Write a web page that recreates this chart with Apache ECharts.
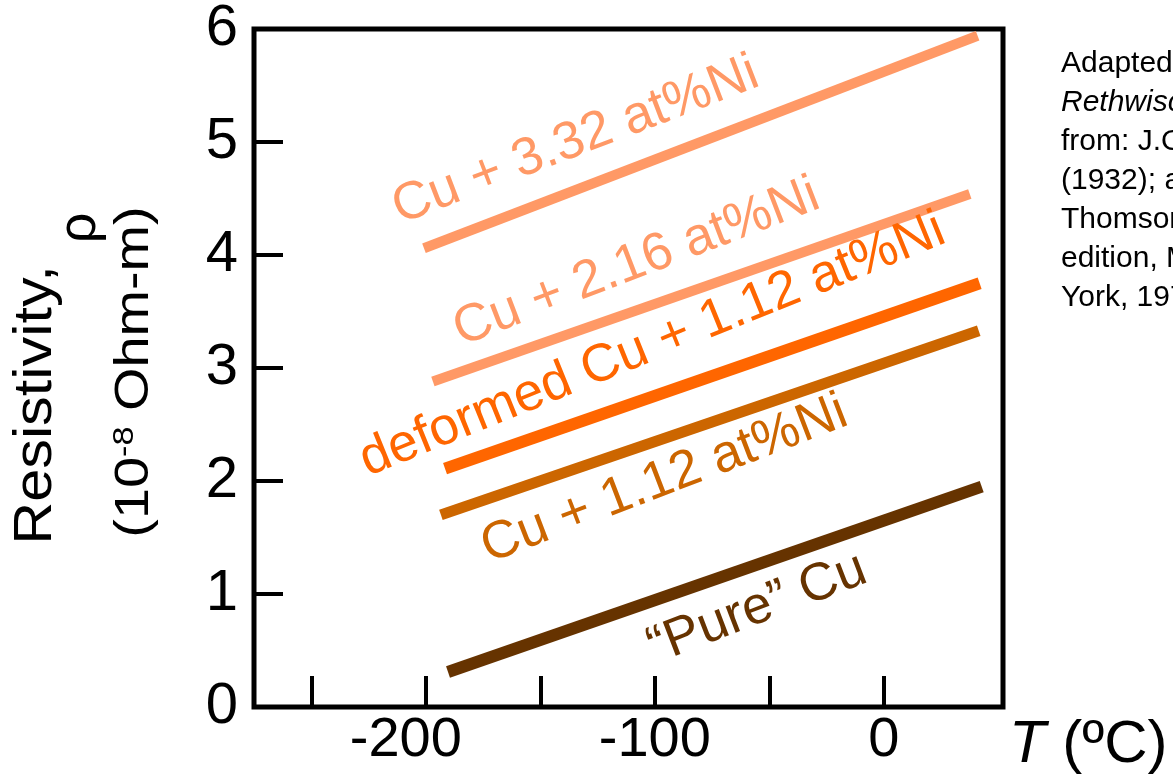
<!DOCTYPE html>
<html>
<head>
<meta charset="utf-8">
<script src="https://cdn.jsdelivr.net/npm/echarts@6/dist/echarts.min.js"></script>
<style>
html,body{margin:0;padding:0;background:#fff;}
#chart{width:1173px;height:776px;}
</style>
</head>
<body>
<div id="chart"></div>
<script>
// ---- data ----
const tempTicks = [-250, -200, -150, -100, -50, 0];
const tempLabels = [-200, -100, 0];
const rhoTicks = [1, 2, 3, 4, 5];
const rhoLabels = [0, 1, 2, 3, 4, 5, 6];

const seriesNames = ['"Pure" Cu', 'Cu + 1.12 at%Ni', 'deformed Cu + 1.12 at%Ni', 'Cu + 2.16 at%Ni', 'Cu + 3.32 at%Ni'];
const pureCu        = [[-190.3, 0.31], [42.7, 1.95]];
const cu112         = [[-193.4, 1.70], [41.4, 3.33]];
const deformedCu112 = [[-191.6, 2.11], [41.8, 3.75]];
const cu216         = [[-196.9, 2.88], [37.5, 4.54]];
const cu332         = [[-200.8, 4.06], [40.9, 5.94]];

const labelTexts = ['\u201CPure\u201D Cu', 'Cu + 1.12 at%Ni', 'deformed Cu + 1.12 at%Ni', 'Cu + 2.16 at%Ni', 'Cu + 3.32 at%Ni'];
const labelCoords = [[-55.3, 0.87], [-95.8, 2.01], [-101, 3.20], [-108, 3.93], [-134.6, 5.01]];
const labelAngles = [21, 21, 22, 21, 21];

const colors = ['#663300', '#CC6600', '#FF6600', '#FF9966', '#FF9966'];
const widths = [12, 11, 12, 10, 10];
const seriesData = [pureCu, cu112, deformedCu112, cu216, cu332];

const FONT = 'Liberation Sans, Arial, Helvetica, sans-serif';

const chart = echarts.init(document.getElementById('chart'), null, {renderer: 'canvas'});

const series = seriesData.map((d, i) => ({
  name: seriesNames[i],
  type: 'line',
  data: d,
  symbol: 'none',
  showSymbol: false,
  lineStyle: {color: colors[i], width: widths[i], cap: 'butt'},
  silent: true,
  markPoint: {
    symbol: 'circle',
    symbolSize: 0,
    silent: true,
    data: [{
      coord: labelCoords[i],
      label: {
        show: true,
        position: 'inside',
        formatter: labelTexts[i],
        rotate: labelAngles[i],
        color: colors[i],
        fontSize: 53,
        fontFamily: FONT
      }
    }]
  }
}));

const option = {
  animation: false,
  backgroundColor: '#ffffff',
  grid: {
    left: 254, right: 170, top: 28, bottom: 69,
    show: true, borderColor: '#000', borderWidth: 5, backgroundColor: 'transparent'
  },
  xAxis: {
    type: 'value',
    min: -275, max: 52,
    splitLine: {show: false},
    axisLine: {show: false, onZero: false},
    axisTick: {show: true, inside: true, length: 31, customValues: tempTicks, lineStyle: {color: '#000', width: 4}},
    axisLabel: {
      show: true, customValues: tempLabels, margin: 6, fontSize: 56, color: '#000', fontFamily: FONT,
      formatter: v => (v === -200 ? '{a|-200}' : String(v)),
      rich: {a: {fontSize: 56, color: '#000', fontFamily: FONT, padding: [0, 40, 0, 0]}}
    },
    name: '{it|T} (ºC)',
    nameLocation: 'end',
    nameGap: 6,
    nameTextStyle: {
      fontSize: 60, color: '#000', fontFamily: FONT,
      verticalAlign: 'top', padding: [8, 0, 0, 0],
      rich: {it: {fontStyle: 'italic', fontSize: 60, color: '#000', fontFamily: FONT}}
    }
  },
  yAxis: {
    type: 'value',
    min: 0, max: 6,
    splitLine: {show: false},
    axisLine: {show: false, onZero: false},
    axisTick: {show: true, inside: true, length: 29, customValues: rhoTicks, lineStyle: {color: '#000', width: 4}},
    axisLabel: {show: true, customValues: rhoLabels, margin: 16, fontSize: 58, color: '#000', fontFamily: FONT}
  },
  graphic: [
    {
      type: 'text', left: 1061, top: 44, silent: true,
      style: {
        text: 'Adapted from Fig. 18.8, Callister &\n{i|Rethwisch 8e.} (Fig. 18.8 adapted\nfrom: J.O. Linde, Ann. Physik 5, p. 219\n(1932); and C.A. Wert and R.M.\nThomson, {i|Physics of Solids}, 2nd\nedition, McGraw-Hill Book Company, New\nYork, 1970.)',
        fontSize: 30, lineHeight: 39, fill: '#000', fontFamily: FONT,
        rich: {i: {fontStyle: 'italic', fontSize: 30, lineHeight: 39, fill: '#000', fontFamily: FONT}}
      }
    },
    {
      type: 'text', x: 36, y: 405, rotation: Math.PI / 2, scaleX: 1.1, silent: true,
      style: {
        text: 'Resistivity,', fontSize: 54, fill: '#000', fontFamily: FONT,
        align: 'center', verticalAlign: 'middle'
      }
    },
    {
      type: 'text', x: 80, y: 228, rotation: Math.PI / 2, silent: true,
      style: {
        text: 'ρ', fontSize: 54, fill: '#000', fontFamily: FONT,
        align: 'center', verticalAlign: 'middle'
      }
    },
    {
      type: 'text', x: 134, y: 372, rotation: Math.PI / 2, scaleX: 1.14, silent: true,
      style: {
        text: '(10{s|-8} Ohm-m)', fontSize: 49, fill: '#000', fontFamily: FONT,
        align: 'center', verticalAlign: 'middle',
        rich: {
          s: {fontSize: 30, fontFamily: FONT, fill: '#000', verticalAlign: 'top', lineHeight: 49}
        }
      }
    }
  ],
  series: series
};

chart.setOption(option);
</script>
</body>
</html>
